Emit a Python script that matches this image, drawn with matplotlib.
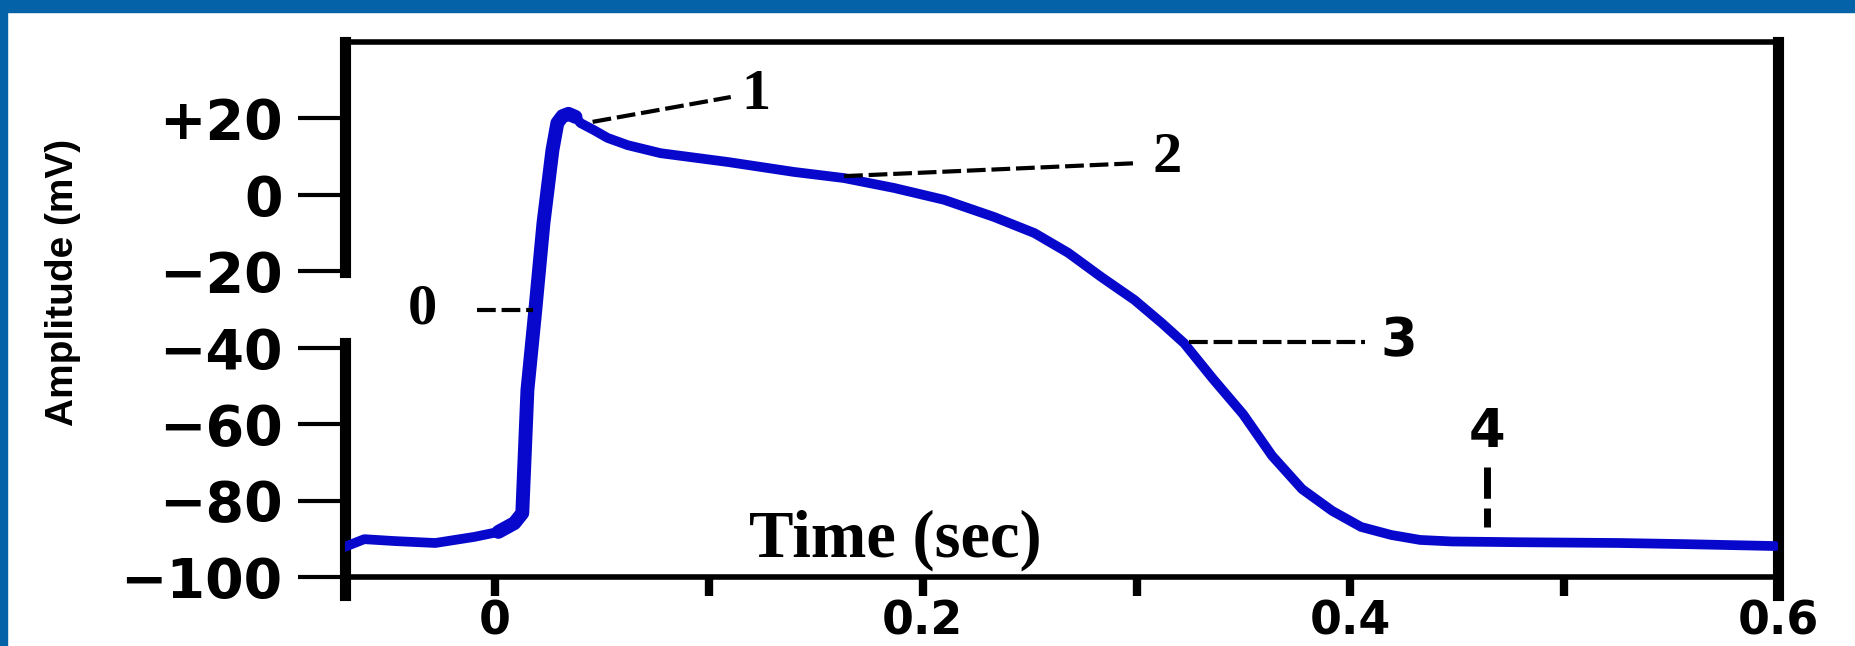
import matplotlib.pyplot as plt
from matplotlib.patches import Rectangle
from matplotlib.spines import Spine

# action potential trace (time in sec, amplitude in mV)
time_s = [-0.0707, -0.0612, -0.0468, -0.0280, -0.0097, 0.0015, 0.0090, 0.0127,
          0.0151, 0.0188, 0.0226, 0.0268, 0.0291, 0.0315, 0.0343, 0.0376,
          0.0399, 0.0460, 0.0526, 0.0620, 0.0774, 0.1088, 0.1397, 0.1631,
          0.1866, 0.2100, 0.2334, 0.2522, 0.2681, 0.2835, 0.2990, 0.3117,
          0.3222, 0.3358, 0.3498, 0.3634, 0.3774, 0.3915, 0.4050, 0.4191,
          0.4326, 0.4475, 0.4789, 0.5257, 0.5567, 0.5988]
amp_mv = [-92.2, -90.1, -90.6, -91.1, -89.5, -88.2, -85.9, -83.3,
          -51.1, -30.1, -7.4, 11.7, 18.8, 20.6, 21.2, 20.4,
          18.8, 17.0, 14.9, 13.0, 10.9, 8.6, 6.0, 4.4,
          1.8, -1.3, -5.8, -10.0, -15.2, -21.5, -27.5, -33.5,
          -38.8, -48.2, -57.4, -68.3, -77.0, -82.7, -86.9, -89.0,
          -90.3, -90.7, -90.9, -91.1, -91.4, -91.9]

ytick_vals = [20, 0, -20, -40, -60, -80, -100]
ytick_text = ['+20', '0', '\u221220', '\u221240', '\u221260', '\u221280', '\u2212100']
xtick_vals = [0, 0.1, 0.2, 0.3, 0.4, 0.5, 0.6]
xtick_text = ['0', '', '0.2', '', '0.4', '', '0.6']

# phase numbers with their dashed leader lines
phase_names = ['0', '1', '2', '3', '4']
phase_x = [-0.034, 0.1219, 0.3144, 0.4228, 0.4639]
phase_y = [-30.1, 26.1, 9.6, -38.2, -62.0]
leader_x = [(-0.0083, 0.0179), (0.0456, 0.1102), (0.1632, 0.3004), (0.3244, 0.4068), (0.4639, 0.4639)]
leader_y = [(-30.1, -30.1), (19.1, 25.6), (4.9, 8.3), (-38.5, -38.5), (-71.2, -86.9)]

blue = '#0808cc'
frame_blue = '#0462a8'

fig = plt.figure(figsize=(18.56, 6.46), dpi=100)
ax = fig.add_axes([0.1859, 0.1068, 0.958 - 0.1859, 0.935 - 0.1068])

ax.plot(time_s, amp_mv, color=blue, lw=7, solid_capstyle='round',
        solid_joinstyle='round', zorder=3)
# upstroke is drawn heavier in the original
ax.plot(time_s[5:16], amp_mv[5:16], color=blue, lw=10, solid_capstyle='round',
        solid_joinstyle='round', zorder=3)

ax.set_xlim(-0.0702, 0.6)
ax.set_ylim(-100, 40)

for side in ['left', 'right']:
    ax.spines[side].set_linewidth(8)
for side in ['top', 'bottom']:
    ax.spines[side].set_linewidth(4)
ax.spines['left'].set_bounds(-20.2, 40)
ax.spines['right'].set_bounds(-104.8, 40)
# the left axis line is broken between -20 and -40 in the original
lower = Spine.linear_spine(ax, 'left')
lower.set_position(('axes', 0.0))
lower.set_bounds(-104.8, -38.8)
lower.set_linewidth(8)
ax.spines['left_lower'] = lower

ax.set_yticks(ytick_vals, ytick_text)
ax.set_xticks(xtick_vals, xtick_text)
ax.tick_params(axis='y', direction='out', length=34, width=3, pad=11, labelsize=40)
ax.tick_params(axis='x', direction='out', length=14, width=6, pad=2.2, labelsize=33)
for lab in ax.get_xticklabels() + ax.get_yticklabels():
    lab.set_family('DejaVu Sans')
    lab.set_fontweight('bold')

ax.set_ylabel('Amplitude (mV)', family='Liberation Sans', fontweight='bold',
              fontsize=28, va='center')
ax.yaxis.set_label_coords(-0.197, 0.55)

ax.text(0.187, -90.3, 'Time (sec)', family='Liberation Serif', fontweight='bold',
        fontsize=48, ha='center', va='center')

for i in range(len(phase_names)):
    lw = 5 if i == 4 else 3
    ax.plot(leader_x[i], leader_y[i], color='black', lw=lw, ls=(0, (4.5, 1.4)), zorder=4)
    if phase_names[i] in ['3', '4']:
        ax.text(phase_x[i], phase_y[i], phase_names[i], family='DejaVu Sans',
                fontweight='bold', fontsize=38, ha='center', va='center')
    else:
        ax.text(phase_x[i], phase_y[i], phase_names[i], family='Liberation Serif',
                fontweight='bold', fontsize=42, ha='center', va='center')

# blue slide frame (top band and left edge)
fig.patches.append(Rectangle((0, 1 - 12 / 646), 1, 12 / 646, transform=fig.transFigure,
                             color=frame_blue, zorder=0))
fig.patches.append(Rectangle((0, 0), 7 / 1856, 1, transform=fig.transFigure,
                             color=frame_blue, zorder=0))

fig.savefig('out.png', dpi=100)
